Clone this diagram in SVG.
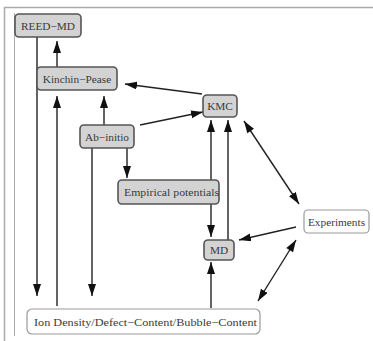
<svg xmlns="http://www.w3.org/2000/svg" width="373" height="341" viewBox="0 0 373 341">
<style>
.g rect{fill:#d3d3d3;stroke:#555;stroke-width:1.6}
.w rect{fill:#fff;stroke:#999;stroke-width:1.2}
text{font-family:"Liberation Serif","Times New Roman",serif;font-size:11.3px;fill:#3a3a3a}
.c{text-anchor:middle}
#edges line{stroke:#222;stroke-width:1.4;fill:none}
.a{marker-end:url(#ah)}
.b{marker-end:url(#ah);marker-start:url(#as)}
</style>
<defs>
<marker id="ah" markerUnits="userSpaceOnUse" markerWidth="13" markerHeight="9" refX="12" refY="4" orient="auto"><path d="M0,0 L12,4 L0,8 z" fill="#111"/></marker>
<marker id="as" markerUnits="userSpaceOnUse" markerWidth="13" markerHeight="9" refX="0" refY="4" orient="auto"><path d="M12,0 L0,4 L12,8 z" fill="#111"/></marker>
</defs>
<rect width="373" height="341" fill="#fff"/>
<g id="frame" fill="none" stroke="#aaa">
<path d="M4.5,341 V7.5 H373" stroke-width="1.5"/>
<path d="M14.5,13 V336" stroke-width="1"/>
</g>
<g id="edges">
<line class="a" x1="57" y1="67" x2="57" y2="41"/>
<line class="a" x1="37" y1="37" x2="37" y2="296"/>
<line class="a" x1="57" y1="306" x2="57" y2="96"/>
<line class="a" x1="104" y1="125" x2="104" y2="96"/>
<line class="a" x1="92" y1="148" x2="92" y2="296"/>
<line class="a" x1="127" y1="148" x2="127" y2="178"/>
<line class="a" x1="202" y1="94" x2="125" y2="84"/>
<line class="a" x1="140" y1="125" x2="203" y2="112"/>
<line class="a" x1="211" y1="180" x2="211" y2="120"/>
<line class="a" x1="211" y1="204" x2="211" y2="237"/>
<line class="a" x1="228" y1="240" x2="228" y2="120"/>
<line class="b" x1="244" y1="121" x2="299" y2="204"/>
<line class="a" x1="296" y1="227" x2="239" y2="240"/>
<line class="b" x1="296" y1="240" x2="258" y2="301"/>
<line class="a" x1="211" y1="308" x2="211" y2="262"/>
</g>
<g id="reed-md" class="g"><rect x="15" y="14" width="66" height="23" rx="4"/><text class="c" x="48" y="29.5">REED−MD</text></g>
<g id="kinchin-pease" class="g"><rect x="37" y="67" width="80" height="23" rx="4"/><text class="c" x="77" y="82.5">Kinchin−Pease</text></g>
<g id="ab-initio" class="g"><rect x="80" y="125" width="54" height="23" rx="4"/><text class="c" x="107" y="140.5">Ab−initio</text></g>
<g id="kmc" class="g"><rect x="203" y="95" width="34" height="22" rx="4"/><text class="c" x="220" y="110">KMC</text></g>
<g id="empirical-potentials" class="g"><rect x="118" y="180" width="101" height="24" rx="4"/><text x="124" y="196" textLength="95" lengthAdjust="spacingAndGlyphs">Empirical potentials</text></g>
<g id="md" class="g"><rect x="204" y="240" width="30" height="20" rx="4"/><text class="c" x="219" y="254">MD</text></g>
<g id="experiments" class="w"><rect x="304" y="210" width="65" height="23" rx="4"/><text class="c" x="336.5" y="225.5">Experiments</text></g>
<g id="ion-density" class="w"><rect x="27" y="309" width="233" height="25" rx="5"/><text x="34" y="326" textLength="223" lengthAdjust="spacingAndGlyphs">Ion Density/Defect−Content/Bubble−Content</text></g>
</svg>
